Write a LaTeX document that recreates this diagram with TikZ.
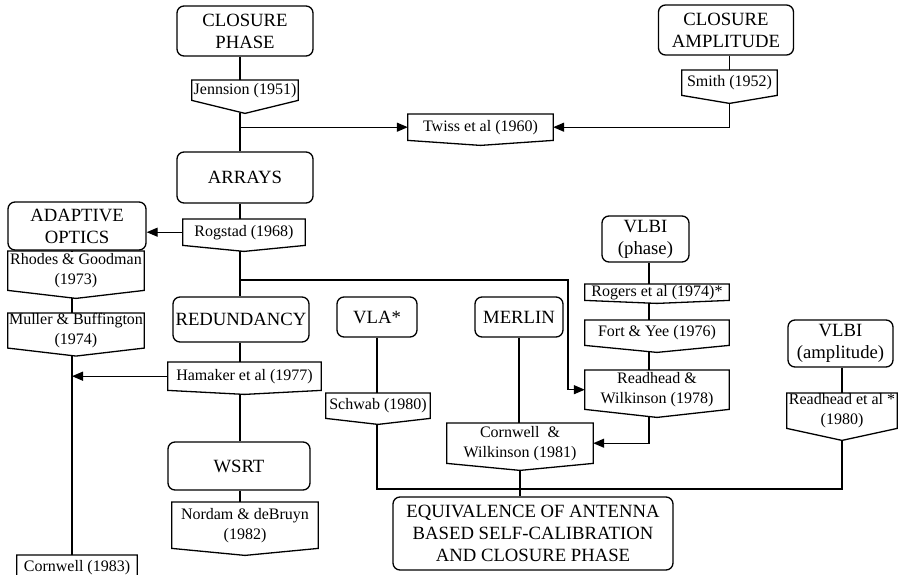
\documentclass[tikz,border=0pt]{standalone}
\usepackage{fontspec}
\setmainfont{Liberation Serif}
\usetikzlibrary{arrows.meta}
\tikzset{
 title/.style={draw, rounded corners=7pt, line width=1.3pt, align=center, font=\fontsize{18.7}{22}\selectfont, inner sep=0pt},
 tagtext/.style={align=center, font=\fontsize{16}{20}\selectfont, inner sep=0pt},
 tagline/.style={line width=1.3pt, line join=miter},
 conn/.style={line width=1.3pt},
 arr/.style={conn, -{Triangle[length=11pt,width=9pt]}},
}
% name, cx, top, width, side height, point depth, text
\newcommand\tagbox[7]{%
 \node[tagtext, minimum width=#4pt, minimum height=#5pt, anchor=north] (#1) at (#2,#3) {#7};
 \draw[tagline] (#1.north west) -- (#1.north east) -- (#1.south east) -- ([yshift=-#6pt]#1.south) coordinate (#1-tip) -- (#1.south west) -- cycle;
}
% name, cx, cy, width, height, text
\newcommand\titlebox[6]{%
 \node[title, minimum width=#4pt, minimum height=#5pt] (#1) at (#2,#3) {#6};
}
\begin{document}
\begin{tikzpicture}[x=1pt,y=-1pt]
\useasboundingbox (0,0) rectangle (899,575);
\fill[white] (0,0) rectangle (899,575);
% guide coordinates
\coordinate (spine) at (240,0);
\coordinate (lx) at (72,0);
\coordinate (vx) at (649,0);
\coordinate (b1) at (240,280);
\coordinate (b2) at (568,280);
\coordinate (bus) at (0,489);

% title boxes
\titlebox{cp}{245}{31}{136}{50}{CLOSURE\\PHASE}
\titlebox{ca}{726}{30}{135}{50}{CLOSURE\\AMPLITUDE}
\titlebox{arrays}{245}{177.5}{136}{51}{ARRAYS}
\titlebox{ao}{77}{226}{138}{48}{ADAPTIVE\\OPTICS}
\titlebox{red}{241}{319.5}{136}{45}{REDUNDANCY}
\titlebox{wsrt}{239}{466}{142}{48}{WSRT}
\titlebox{vla}{377}{317}{80}{40}{VLA*}
\titlebox{merlin}{519}{317}{88}{40}{MERLIN}
\titlebox{vlbip}{645.5}{239}{87}{46}{VLBI\\(phase)}
\titlebox{vlbia}{840.5}{343.5}{105}{47}{VLBI\\(amplitude)}
\titlebox{equiv}{533}{533.5}{280}{73}{EQUIVALENCE OF ANTENNA\\BASED SELF-CALIBRATION\\AND CLOSURE PHASE}

% reference tags
\tagbox{jen}{245}{80}{106}{20}{13}{Jennsion (1951)}
\tagbox{smith}{729.5}{70}{95}{25}{8}{Smith (1952)}
\tagbox{twiss}{480.5}{114}{145}{26}{5}{Twiss et al (1960)}
\tagbox{rog}{244}{219}{122}{26}{6}{Rogstad (1968)}
\tagbox{rhodes}{76}{251}{136}{39}{8}{Rhodes \& Goodman\\(1973)}
\tagbox{muller}{76}{313}{136}{32}{8}{Muller \& Buffington\\(1974)}
\tagbox{ham}{244.5}{362}{153}{28}{4}{Hamaker et al (1977)}
\tagbox{nordam}{245}{502}{146}{46}{7}{Nordam \& deBruyn\\(1982)}
\tagbox{corn}{77}{555}{120}{24}{5}{Cornwell (1983)}
\tagbox{schwab}{378}{393}{104}{25}{6}{Schwab (1980)}
\tagbox{cw}{520}{423}{146}{40}{7}{Cornwell \ \&\\Wilkinson (1981)}
\tagbox{rogers}{657}{284}{144}{16}{3}{Rogers et al (1974)*}
\tagbox{fort}{657}{320}{144}{25}{7}{Fort \& Yee (1976)}
\tagbox{rw}{657}{370}{144}{39}{8}{Readhead \&\\Wilkinson (1978)}
\tagbox{rea}{842}{393}{110}{35}{12}{Readhead et al *\\(1980)}

% spine
\draw[conn] (cp.south -| spine) -- (jen.north -| spine);
\draw[conn] (jen-tip -| spine) -- (arrays.north -| spine);
\draw[conn] (arrays.south -| spine) -- (rog.north -| spine);
\draw[conn] (rog-tip -| spine) -- (red.north -| spine);
\draw[conn] (red.south -| spine) -- (ham.north -| spine);
\draw[conn] (ham-tip -| spine) -- (wsrt.north -| spine);
\draw[conn] (wsrt.south -| spine) -- (nordam.north -| spine);
% closure phase / amplitude to Twiss
\draw[arr] (spine |- twiss.west) -- (twiss.west);
\draw[conn] (ca.south -| smith.north) -- (smith.north);
\draw[arr] (smith-tip) |- (twiss.east);
% adaptive optics column
\draw[arr] (rog.west) -- (rog.west -| ao.east);
\draw[conn] (ao.south -| lx) -- (rhodes.north -| lx);
\draw[conn] (rhodes-tip -| lx) -- (muller.north -| lx);
\draw[conn] (muller-tip -| lx) -- (corn.north -| lx);
\draw[arr] (ham.west) -- (ham.west -| lx);
% branch to Readhead & Wilkinson
\draw[arr] (b1) -- (b2) |- (rw.west);
% VLBI phase column
\draw[conn] (vlbip.south -| vx) -- (rogers.north -| vx);
\draw[conn] (rogers-tip -| vx) -- (fort.north -| vx);
\draw[conn] (fort-tip -| vx) -- (rw.north -| vx);
\draw[arr] (rw-tip -| vx) |- (cw.east);
% VLA, MERLIN
\draw[conn] (vla.south) -- (vla.south |- schwab.north);
\draw[conn] (merlin.south) -- (merlin.south |- cw.north);
\draw[conn] (vlbia.south -| rea-tip) -- (rea.north -| rea-tip);
% bottom bus
\draw[conn] (schwab-tip -| vla) |- (bus -| rea-tip) -- (rea-tip);
\draw[conn] (cw-tip) -- (cw-tip |- equiv.north);
\end{tikzpicture}
\end{document}
